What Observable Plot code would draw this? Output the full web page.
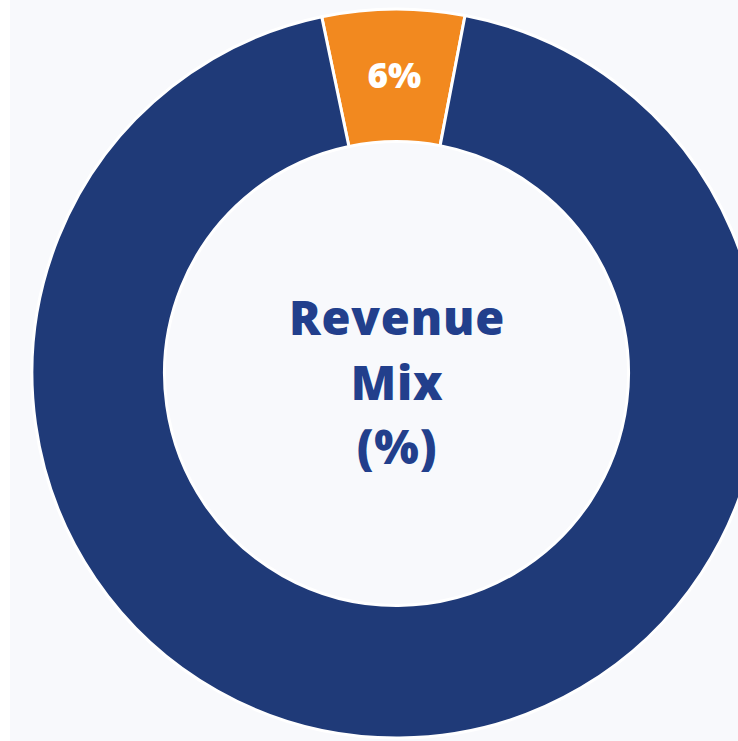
<!DOCTYPE html>
<html>
<head>
<meta charset="utf-8">
<script src="https://cdn.jsdelivr.net/npm/d3@7"></script>
<script src="https://cdn.jsdelivr.net/npm/@observablehq/plot@0.6"></script>
<style>
  html, body { margin: 0; padding: 0; overflow: hidden; }
  body {
    width: 738px; height: 741px;
    background: linear-gradient(to right, #ffffff 0, #ffffff 10px, #f8f9fc 10px);
  }
  #chart svg { display: block; }
  #chart svg .center-title text, #chart svg text.center-title { letter-spacing: 0.8px; }
</style>
</head>
<body>
<div id="chart"></div>
<script>
// ---- data ----
const categories = ["Other", "Core"];
const shares = [6.3, 93.7];
const sliceColors = ["#f2891f", "#1f3a78"];
const sliceLabels = ["6%", ""];
const centerTitle = ["Revenue", "Mix", "(%)"];

// ---- layout ----
const W = 738, H = 741;
const cx = 396.5, cy = 373.5, outerPx = 364.5, innerPx = 232;
const innerRatio = innerPx / outerPx;
const rotationDeg = -0.5;

const rows = categories.map((c, i) => ({category: c, share: shares[i], color: sliceColors[i], label: sliceLabels[i]}));
const start = -shares[0] / 100 * Math.PI + rotationDeg * Math.PI / 180;
const pie = d3.pie().sort(null).value(d => d.share)
  .startAngle(start).endAngle(start + 2 * Math.PI);
const arcs = pie(rows);

const labelRows = arcs.filter(a => a.data.label).map(a => {
  const mid = (a.startAngle + a.endAngle) / 2;
  const rm = (innerRatio + 1) / 2;
  return {x: rm * Math.sin(mid), y: rm * Math.cos(mid), label: a.data.label};
});
const centerRows = [{x: 0, y: 0, label: centerTitle.join("\n")}];

function donut(index, scales) {
  const x0 = scales.x(0), y0 = scales.y(0);
  const R = scales.x(1) - scales.x(0);
  const arc = d3.arc().innerRadius(R * innerRatio).outerRadius(R);
  const g = d3.create("svg:g").attr("transform", `translate(${x0},${y0})`);
  g.selectAll("path").data(arcs).join("path")
    .attr("d", arc)
    .attr("fill", d => d.data.color)
    .attr("stroke", "#ffffff")
    .attr("stroke-width", 3)
    .attr("stroke-linejoin", "miter");
  return g.node();
}

const chart = Plot.plot({
  width: W,
  height: H,
  margin: 0,
  style: {background: "transparent", overflow: "hidden"},
  x: {domain: [-1, 1], range: [cx - outerPx, cx + outerPx], axis: null},
  y: {domain: [-1, 1], range: [cy + outerPx, cy - outerPx], axis: null},
  marks: [
    donut,
    Plot.text(labelRows, {
      x: "x", y: "y", text: "label",
      fill: "#ffffff", fontSize: 35, fontWeight: 800,
      fontFamily: "Open Sans", dy: 1
    }),
    Plot.text(centerRows, {
      x: "x", y: "y", text: "label",
      fill: "#223f8c", fontSize: 47, fontWeight: 800,
      fontFamily: "Open Sans", lineHeight: 1.37, dy: 5,
      className: "center-title"
    })
  ]
});
document.getElementById("chart").appendChild(chart);
</script>
</body>
</html>
